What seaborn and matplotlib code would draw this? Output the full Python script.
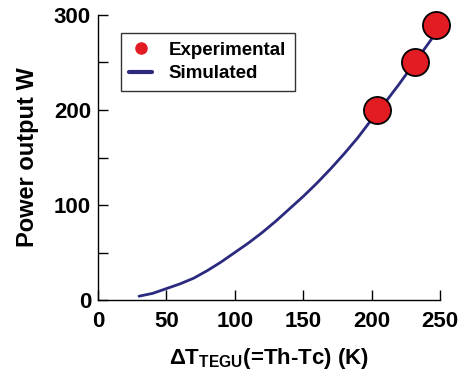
import matplotlib
matplotlib.use("Agg")
import matplotlib.pyplot as plt
import seaborn as sns
import pandas as pd
from matplotlib.lines import Line2D

# Data
sim_dt = [30, 40, 50, 60, 70, 80, 90, 100, 110, 120, 130, 140, 150, 160,
          170, 180, 190, 200, 210, 220, 230, 240, 248]
sim_power = [4, 7, 12, 17, 23, 31, 40, 50, 60, 71, 83, 96, 109, 123,
             138, 154, 171, 190, 208, 227, 247, 267, 283]
exp_dt = [204, 231.5, 247]
exp_power = [200, 250.5, 289]

x_ticks = [0, 50, 100, 150, 200, 250]
y_ticks = [0, 50, 100, 150, 200, 250, 300]
y_ticklabels = ["0", "", "100", "", "200", "", "300"]

sns.set_theme(style="ticks")
plt.rcParams['font.family'] = ['Liberation Sans', 'DejaVu Sans']
plt.rcParams['font.weight'] = 'bold'
plt.rcParams['text.color'] = 'black'
plt.rcParams['axes.labelcolor'] = 'black'
plt.rcParams['xtick.color'] = 'black'
plt.rcParams['ytick.color'] = 'black'
plt.rcParams['mathtext.fontset'] = 'custom'
plt.rcParams['mathtext.rm'] = 'Liberation Sans:bold'
plt.rcParams['mathtext.it'] = 'Liberation Sans:bold'
plt.rcParams['mathtext.bf'] = 'Liberation Sans:bold'

sim_df = pd.DataFrame({"dt": sim_dt, "p": sim_power})
exp_df = pd.DataFrame({"dt": exp_dt, "p": exp_power})

line_color = "#2b2a7e"
dot_color = "#e31b23"

fig = plt.figure(figsize=(4.63, 3.73), dpi=100)
ax = fig.add_axes([98/463, 1-300/373, (440-98)/463, (300-15)/373])

sns.lineplot(data=sim_df, x="dt", y="p", ax=ax, color=line_color, lw=2.0)
sns.scatterplot(data=exp_df, x="dt", y="p", ax=ax, color=dot_color, s=380,
                edgecolor="black", linewidth=1.3, clip_on=False, zorder=5)

ax.set_xlim(0, 250)
ax.set_ylim(0, 300)
ax.set_xticks(x_ticks)
ax.set_xticklabels([str(t) for t in x_ticks])
ax.set_yticks(y_ticks)
ax.set_yticklabels(y_ticklabels)
ax.tick_params(axis='both', direction='in', length=7, width=1, colors='black',
               labelsize=16, pad=5)
ax.tick_params(axis='x', pad=8)
for lbl in ax.get_xticklabels() + ax.get_yticklabels():
    lbl.set_fontweight('bold')

for s in ["top", "right"]:
    ax.spines[s].set_visible(False)
for s in ["left", "bottom"]:
    ax.spines[s].set_color("black")
    ax.spines[s].set_linewidth(1.0)

ax.set_xlabel(r"ΔT$_\mathregular{TEGU}$(=Th-Tc) (K)", fontsize=16,
              fontweight='bold', labelpad=10, color='black')
ax.set_ylabel("Power output W", fontsize=17, fontweight='bold', labelpad=11,
              color='black')

handles = [
    Line2D([], [], marker='o', color='none', markerfacecolor=dot_color,
           markeredgecolor=dot_color, markersize=8, label="Experimental"),
    Line2D([], [], color=line_color, lw=3, label="Simulated"),
]
leg = ax.legend(handles=handles, loc='upper left',
                bbox_to_anchor=((121-98)/342, (300-33)/285),
                frameon=True, fancybox=False, edgecolor='black',
                prop={'size': 13.5, 'weight': 'bold'}, handlelength=1.2,
                borderpad=0.45, labelspacing=0.35, handletextpad=0.9,
                borderaxespad=0)
leg.get_frame().set_linewidth(1.0)
for t in leg.get_texts():
    t.set_color('black')

fig.savefig("out.png", dpi=100)
